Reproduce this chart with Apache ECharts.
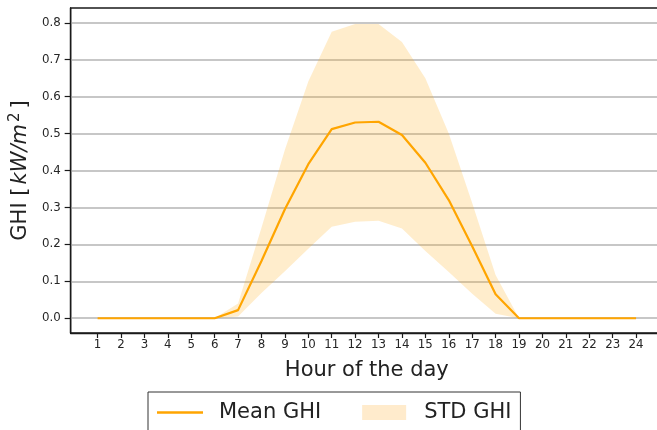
<!DOCTYPE html>
<html>
<head>
<meta charset="utf-8">
<script src="https://cdn.jsdelivr.net/npm/echarts@6/dist/echarts.min.js"></script>
<style>html,body{margin:0;padding:0;background:#fff;overflow:hidden;width:657px;height:430px;}#c{width:663px;height:430px;}</style>
</head>
<body>
<div id="c"></div>
<script>
const hours = [1,2,3,4,5,6,7,8,9,10,11,12,13,14,15,16,17,18,19,20,21,22,23,24];
const meanGHI = [0,0,0,0,0,0,0.022,0.155,0.295,0.417,0.512,0.530,0.532,0.496,0.421,0.320,0.195,0.065,0,0,0,0,0,0];
const upperGHI = [0,0,0,0,0,0,0.040,0.245,0.456,0.641,0.776,0.797,0.797,0.748,0.650,0.500,0.312,0.117,0,0,0,0,0,0];
const lowerGHI = [0,0,0,0,0,0,0.005,0.068,0.127,0.188,0.248,0.261,0.264,0.243,0.182,0.125,0.066,0.012,0,0,0,0,0,0];
const yTicks = [0,0.1,0.2,0.3,0.4,0.5,0.6,0.7,0.8];

const font = 'DejaVu Sans';
const chart = echarts.init(document.getElementById('c'), null, {renderer:'canvas'});
const pair = (arr) => hours.map((h,i)=>[h, arr[i]]);
const bandData = hours.map((h,i)=>[h, lowerGHI[i], upperGHI[i]]);

chart.setOption({
  animation: false,
  textStyle: {fontFamily: font},
  grid: {left: 69, right: 0, top: 8, bottom: 97, show: true, borderColor: '#1a1a1a', borderWidth: 1.4, backgroundColor: 'transparent'},
  xAxis: {
    type: 'value', min: -0.15, max: 25.15,
    name: 'Hour of the day', nameLocation: 'middle', nameGap: 27,
    nameTextStyle: {fontFamily: font, fontSize: 21, color: '#222'},
    axisLine: {show: true, onZero: false, lineStyle: {color: '#1a1a1a', width: 1.4}},
    axisTick: {show: true, customValues: hours, length: 5, lineStyle: {color: '#1a1a1a', width: 1.2}},
    axisLabel: {customValues: hours, fontFamily: font, fontSize: 11.8, color: '#262626', margin: 6},
    splitLine: {show: false}
  },
  yAxis: {
    type: 'value', min: -0.04, max: 0.84,
    name: '{n|GHI [}{i|kW/m}{s|2}{n|]}', nameLocation: 'middle', nameGap: 32,
    nameTextStyle: {
      fontFamily: font, fontSize: 21, color: '#222',
      rich: {
        n: {fontFamily: font, fontSize: 21, color: '#222'},
        i: {fontFamily: font, fontSize: 21, fontStyle: 'italic', color: '#222', padding: [0,0,0,3]},
        s: {fontFamily: font, fontSize: 15, color: '#222', verticalAlign: 'top', padding: [0,4,10,2]}
      }
    },
    axisLine: {show: true, onZero: false, lineStyle: {color: '#1a1a1a', width: 1.4}},
    axisTick: {show: true, customValues: yTicks, length: 6, lineStyle: {color: '#1a1a1a', width: 1.2}},
    axisLabel: {customValues: yTicks, formatter: v => v.toFixed(1), fontFamily: font, fontSize: 11.8, color: '#262626', margin: 10},
    splitLine: {show: true, lineStyle: {color: '#b4b4b4', width: 1.5}}
  },
  legend: {
    left: 148, top: 392,
    orient: 'horizontal',
    borderColor: '#333', borderWidth: 1, borderRadius: 0,
    padding: [10, 9, 20, 9],
    itemGap: 41, itemWidth: 57, itemHeight: 15,
    textStyle: {fontFamily: font, fontSize: 21, color: '#222'},
    data: [
      {name: 'Mean GHI', icon: 'path://M0,0 M0,6.3 L46,6.3 L46,8.8 L0,8.8 Z M57,15', itemStyle: {color: '#FFA500'}},
      {name: 'STD GHI', icon: 'path://M0,0 L44,0 L44,15 L0,15 Z M57,15', itemStyle: {color: '#FFEBCC'}}
    ]
  },
  series: [
    {name: 'STD GHI', type: 'custom', data: bandData, encode: {x: 0, y: [1, 2]},
     itemStyle: {color: '#FFEBCC'}, z: 1, silent: true,
     renderItem: function (params, api) {
       if (params.dataIndex !== 0) return null;
       const pts = [];
       for (let i = 0; i < bandData.length; i++) pts.push(api.coord([bandData[i][0], bandData[i][2]]));
       for (let i = bandData.length - 1; i >= 0; i--) pts.push(api.coord([bandData[i][0], bandData[i][1]]));
       return {type: 'polygon', shape: {points: pts}, style: {fill: 'rgba(255,165,0,0.2)', stroke: 'none'}};
     }},
    {name: 'Mean GHI', type: 'line', data: pair(meanGHI), symbol: 'none',
     lineStyle: {color: '#FFA500', width: 2.2}, itemStyle: {color: '#FFA500'}, z: 5}
  ]
});
</script>
</body>
</html>
